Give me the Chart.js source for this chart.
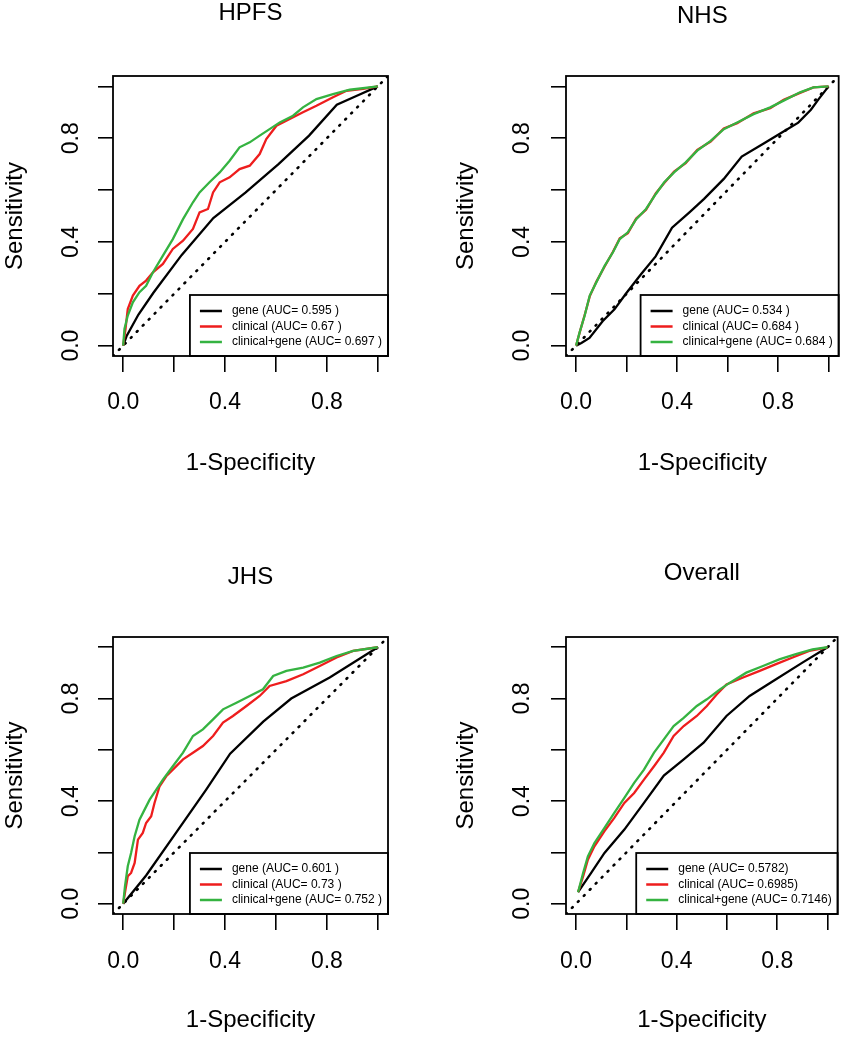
<!DOCTYPE html>
<html>
<head>
<meta charset="utf-8">
<script src="https://cdn.jsdelivr.net/npm/chart.js@4.4.1/dist/chart.umd.min.js"></script>
<style>
  html, body { margin: 0; padding: 0; background: #fff; }
  body { width: 846px; height: 1050px; position: relative; overflow: hidden; }
  canvas { position: absolute; }
</style>
</head>
<body>
<canvas id="hpfs" width="423" height="500" style="left:0;top:0"></canvas>
<canvas id="nhs" width="423" height="500" style="left:423px;top:0"></canvas>
<canvas id="jhs" width="423" height="550" style="left:0;top:500px"></canvas>
<canvas id="overall" width="423" height="550" style="left:423px;top:500px"></canvas>
<script>
// ROC points, as [1-specificity, sensitivity]
const hpfsGene = [[0,0],[0.013,0.036],[0.06,0.12],[0.118,0.203],[0.23,0.35],[0.354,0.492],[0.48,0.59],[0.61,0.70],[0.73,0.81],[0.839,0.929],[0.92,0.965],[1,1]];
const hpfsClinical = [[0,0],[0.009,0.064],[0.018,0.141],[0.038,0.193],[0.064,0.231],[0.09,0.251],[0.117,0.283],[0.156,0.315],[0.195,0.373],[0.235,0.405],[0.274,0.45],[0.3,0.514],[0.333,0.527],[0.353,0.591],[0.379,0.63],[0.418,0.649],[0.457,0.681],[0.497,0.694],[0.536,0.739],[0.562,0.797],[0.602,0.848],[0.654,0.874],[0.706,0.9],[0.759,0.925],[0.824,0.958],[0.877,0.983],[0.942,0.99],[1,1]];
const hpfsCombined = [[0,0],[0.005,0.064],[0.018,0.116],[0.038,0.167],[0.064,0.206],[0.09,0.231],[0.117,0.283],[0.156,0.347],[0.195,0.411],[0.235,0.488],[0.274,0.553],[0.3,0.591],[0.339,0.63],[0.379,0.668],[0.418,0.713],[0.457,0.765],[0.497,0.784],[0.536,0.81],[0.575,0.835],[0.615,0.861],[0.667,0.887],[0.706,0.919],[0.759,0.951],[0.824,0.97],[0.89,0.987],[1,1]];

const nhsGene = [[0,0],[0.021,0.01],[0.053,0.03],[0.105,0.094],[0.152,0.14],[0.197,0.2],[0.257,0.275],[0.315,0.344],[0.38,0.455],[0.45,0.515],[0.507,0.566],[0.585,0.643],[0.656,0.729],[0.743,0.78],[0.82,0.825],[0.88,0.86],[0.93,0.91],[0.96,0.95],[1,1]];
const nhsClinical = [[0,0],[0.014,0.05],[0.034,0.118],[0.054,0.19],[0.08,0.246],[0.113,0.305],[0.146,0.362],[0.173,0.414],[0.205,0.434],[0.238,0.49],[0.277,0.524],[0.316,0.588],[0.349,0.627],[0.388,0.671],[0.434,0.704],[0.48,0.755],[0.533,0.787],[0.585,0.838],[0.638,0.858],[0.703,0.896],[0.769,0.916],[0.822,0.948],[0.887,0.975],[0.94,0.996],[1,1]];
const nhsCombined = [[0,0],[0.014,0.051],[0.034,0.116],[0.054,0.193],[0.08,0.244],[0.113,0.308],[0.146,0.36],[0.173,0.411],[0.205,0.437],[0.238,0.488],[0.277,0.527],[0.316,0.585],[0.349,0.63],[0.388,0.668],[0.434,0.707],[0.48,0.752],[0.533,0.79],[0.585,0.835],[0.638,0.861],[0.703,0.893],[0.769,0.919],[0.822,0.945],[0.887,0.977],[0.94,0.996],[1,1]];

const jhsGene = [[0,0],[0.09,0.11],[0.21,0.28],[0.326,0.445],[0.42,0.585],[0.55,0.71],[0.66,0.80],[0.811,0.882],[1,1]];
const jhsClinical = [[0,0],[0.009,0.055],[0.018,0.107],[0.031,0.12],[0.045,0.159],[0.058,0.25],[0.077,0.276],[0.09,0.315],[0.11,0.341],[0.123,0.393],[0.143,0.458],[0.169,0.497],[0.195,0.523],[0.235,0.563],[0.274,0.589],[0.313,0.615],[0.353,0.654],[0.392,0.706],[0.431,0.732],[0.484,0.771],[0.536,0.81],[0.575,0.849],[0.641,0.868],[0.707,0.895],[0.772,0.927],[0.838,0.96],[0.903,0.986],[1,1]];
const jhsCombined = [[0,0],[0.007,0.068],[0.018,0.146],[0.031,0.198],[0.045,0.263],[0.064,0.328],[0.084,0.367],[0.104,0.406],[0.13,0.445],[0.156,0.484],[0.195,0.536],[0.235,0.589],[0.274,0.654],[0.313,0.68],[0.353,0.719],[0.392,0.758],[0.445,0.784],[0.497,0.81],[0.549,0.836],[0.589,0.888],[0.641,0.908],[0.707,0.921],[0.772,0.94],[0.838,0.966],[0.903,0.986],[1,1]];

const overallGene = [[0.008,0.045],[0.06,0.12],[0.113,0.198],[0.192,0.289],[0.27,0.393],[0.349,0.5],[0.428,0.563],[0.507,0.628],[0.598,0.732],[0.69,0.81],[0.795,0.875],[0.9,0.94],[1,1]];
const overallClinical = [[0.008,0.045],[0.028,0.107],[0.047,0.172],[0.073,0.224],[0.113,0.283],[0.152,0.335],[0.192,0.393],[0.231,0.432],[0.27,0.484],[0.31,0.536],[0.349,0.589],[0.388,0.654],[0.428,0.693],[0.48,0.732],[0.52,0.771],[0.559,0.816],[0.598,0.855],[0.664,0.882],[0.73,0.908],[0.795,0.934],[0.861,0.96],[0.927,0.986],[1,1]];
const overallCombined = [[0.008,0.045],[0.028,0.12],[0.047,0.185],[0.073,0.237],[0.113,0.296],[0.152,0.354],[0.192,0.413],[0.231,0.471],[0.27,0.523],[0.31,0.589],[0.349,0.641],[0.388,0.693],[0.428,0.725],[0.48,0.771],[0.52,0.797],[0.572,0.836],[0.612,0.862],[0.677,0.901],[0.743,0.927],[0.808,0.953],[0.874,0.973],[0.94,0.992],[1,1]];

const panelTitles = ['HPFS', 'NHS', 'JHS', 'Overall'];
const hpfsLabels = ['gene (AUC= 0.595 )', 'clinical (AUC= 0.67 )', 'clinical+gene (AUC= 0.697 )'];
const nhsLabels = ['gene (AUC= 0.534 )', 'clinical (AUC= 0.684 )', 'clinical+gene (AUC= 0.684 )'];
const jhsLabels = ['gene (AUC= 0.601 )', 'clinical (AUC= 0.73 )', 'clinical+gene (AUC= 0.752 )'];
const overallLabels = ['gene (AUC= 0.5782)', 'clinical (AUC= 0.6985)', 'clinical+gene (AUC= 0.7146)'];

const tickValues = [0, 0.2, 0.4, 0.6, 0.8, 1.0];
const tickLabels = ['0.0', '', '0.4', '', '0.8', ''];
const axisRange = [-0.04, 1.04];

const FONT = "'Liberation Sans', Arial, sans-serif";
const lineColors = ['#000000', '#ee1d1d', '#35b341'];
const tickFont = 23;
const axisFont = 24;
const titleFont = 24;

const tickText = (v) => {
  const i = tickValues.findIndex(t => Math.abs(t - v) < 1e-9);
  return i < 0 ? '' : tickLabels[i];
};

// plot frame, panel title and an R-style legend in the bottom right corner
const rocFrame = {
  id: 'rocFrame',
  afterDatasetsDraw(chart, args, opts) {
    const { ctx, chartArea: a } = chart;
    const items = chart.data.datasets.filter(d => d.inLegend);
    ctx.save();

    ctx.font = '12px ' + FONT;
    const textW = Math.max(...items.map(d => ctx.measureText(d.label).width));
    const boxW = 10 + 22 + 10 + textW + 6;
    const boxH = 61;
    const x0 = a.right - boxW;
    const y0 = a.bottom - boxH;
    ctx.fillStyle = '#fff';
    ctx.fillRect(x0, y0, boxW, boxH);
    ctx.strokeStyle = '#000';
    ctx.lineWidth = 1.8;
    ctx.strokeRect(x0, y0, boxW, boxH);
    items.forEach((d, i) => {
      const cy = y0 + 16 + i * 15.5;
      ctx.strokeStyle = d.borderColor;
      ctx.lineWidth = 2.5;
      ctx.beginPath();
      ctx.moveTo(x0 + 10, cy);
      ctx.lineTo(x0 + 32, cy);
      ctx.stroke();
      ctx.fillStyle = '#000';
      ctx.textAlign = 'left';
      ctx.textBaseline = 'middle';
      ctx.fillText(d.label, x0 + 42, cy);
    });

    ctx.strokeStyle = '#000';
    ctx.lineWidth = 1.8;
    ctx.strokeRect(a.left, a.top, a.right - a.left, a.bottom - a.top);

    ctx.fillStyle = '#000';
    ctx.font = titleFont + 'px ' + FONT;
    ctx.textAlign = 'center';
    ctx.textBaseline = 'middle';
    ctx.fillText(opts.title, (a.left + a.right) / 2, opts.titleY);
    ctx.restore();
  }
};

function makeChart(canvasId, title, curves, labels, g) {
  const canvas = document.getElementById(canvasId);
  const W = canvas.width, H = canvas.height;
  const tickLh = tickFont * 1.2, axisLh = axisFont * 1.2;
  const m = canvas.getContext('2d');
  m.font = tickFont + 'px ' + FONT;
  const widest = Math.max(...tickLabels.map(t => m.measureText(t).width));

  const datasets = [{
    label: 'diagonal',
    data: axisRange.map(v => ({ x: v, y: v })),
    borderColor: '#000',
    borderWidth: 2.6,
    borderDash: [1, 7.5],
    borderCapStyle: 'round',
    pointRadius: 0,
    showLine: true,
    order: 3,
    inLegend: false
  }];
  curves.forEach((c, i) => datasets.push({
    label: labels[i],
    data: c.map(([x, y]) => ({ x, y })),
    borderColor: lineColors[i],
    borderWidth: 2.3,
    pointRadius: 0,
    showLine: true,
    tension: 0,
    order: 2 - i,
    inLegend: true
  }));

  const tickFontObj = { family: FONT, size: tickFont };
  const axisFontObj = { family: FONT, size: axisFont };

  return new Chart(canvas, {
    type: 'scatter',
    data: { datasets },
    options: {
      responsive: false,
      animation: false,
      layout: { padding: { left: 0, top: g.plotTop, right: W - g.plotRight, bottom: 0 } },
      plugins: {
        legend: { display: false },
        tooltip: { enabled: false },
        rocFrame: { title, titleY: g.titleY }
      },
      scales: {
        x: {
          type: 'linear',
          min: axisRange[0],
          max: axisRange[1],
          afterBuildTicks: s => { s.ticks = tickValues.map(v => ({ value: v })); },
          afterFit: s => { s.height = H - g.plotBottom; },
          grid: { drawOnChartArea: false, drawTicks: true, tickLength: 16, color: '#000', lineWidth: 1.6 },
          border: { display: false },
          ticks: {
            autoSkip: false, maxRotation: 0, color: '#000', font: tickFontObj,
            padding: g.xTickY - g.plotBottom - 16 - tickLh / 2,
            callback: tickText
          },
          title: {
            display: true, text: '1-Specificity', color: '#000', font: axisFontObj,
            padding: { top: 0, bottom: H - g.xTitleY - axisLh / 2 }
          }
        },
        y: {
          type: 'linear',
          min: axisRange[0],
          max: axisRange[1],
          afterBuildTicks: s => { s.ticks = tickValues.map(v => ({ value: v })); },
          afterFit: s => { s.width = g.plotLeft; },
          grid: { drawOnChartArea: false, drawTicks: true, tickLength: 15, color: '#000', lineWidth: 1.6 },
          border: { display: false },
          ticks: {
            autoSkip: false, minRotation: 90, maxRotation: 90, crossAlign: 'center',
            color: '#000', font: tickFontObj,
            padding: g.plotLeft - 15 - g.yTickX - widest / 2,
            callback: tickText
          },
          title: {
            display: true, text: 'Sensitivity', color: '#000', font: axisFontObj,
            padding: { top: g.yTitleX - axisLh / 2, bottom: 0 }
          }
        }
      }
    },
    plugins: [rocFrame]
  });
}

makeChart('hpfs', panelTitles[0], [hpfsGene, hpfsClinical, hpfsCombined], hpfsLabels,
  { plotLeft: 113, plotRight: 388, plotTop: 76, plotBottom: 356, titleY: 13, yTitleX: 15, yTickX: 72, xTickY: 403, xTitleY: 463 });
makeChart('nhs', panelTitles[1], [nhsGene, nhsClinical, nhsCombined], nhsLabels,
  { plotLeft: 143, plotRight: 417, plotTop: 76, plotBottom: 356, titleY: 16, yTitleX: 43, yTickX: 100, xTickY: 403, xTitleY: 463 });
makeChart('jhs', panelTitles[2], [jhsGene, jhsClinical, jhsCombined], jhsLabels,
  { plotLeft: 113, plotRight: 388, plotTop: 137, plotBottom: 414, titleY: 77, yTitleX: 15, yTickX: 72, xTickY: 462, xTitleY: 520 });
makeChart('overall', panelTitles[3], [overallGene, overallClinical, overallCombined], overallLabels,
  { plotLeft: 143, plotRight: 417, plotTop: 137, plotBottom: 414, titleY: 73, yTitleX: 43, yTickX: 100, xTickY: 462, xTitleY: 520 });
</script>
</body>
</html>
